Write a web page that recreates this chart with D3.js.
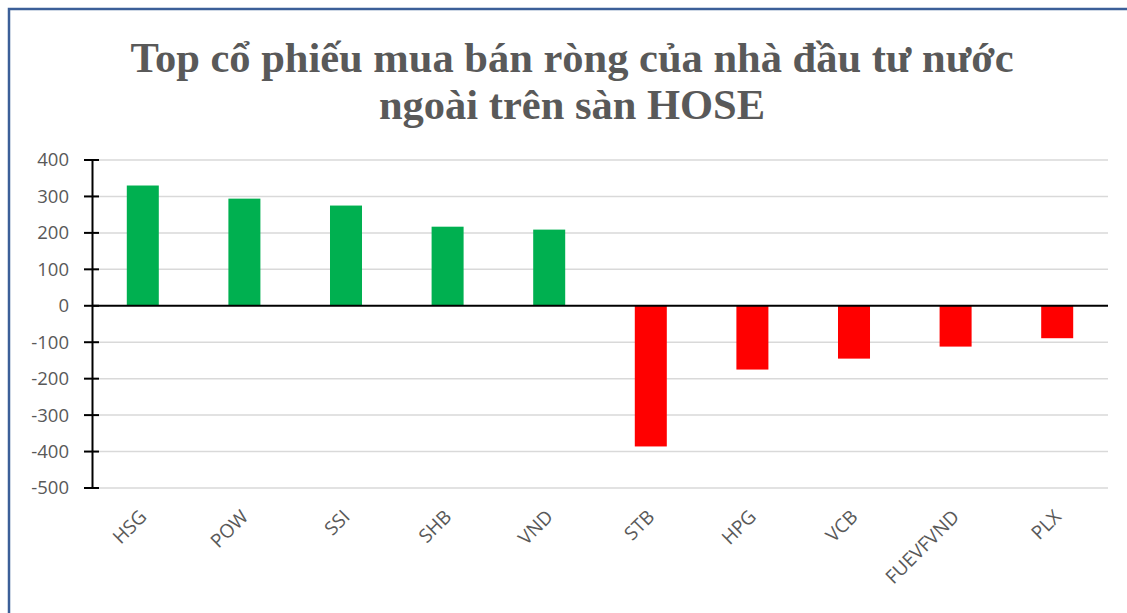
<!DOCTYPE html>
<html><head><meta charset="utf-8">
<script src="https://cdn.jsdelivr.net/npm/d3@7"></script>
<style>body{margin:0;background:#fff;}svg{display:block;}</style>
</head><body>
<svg id="c" width="1127" height="613"></svg>
<script>
const categories = ["HSG","POW","SSI","SHB","VND","STB","HPG","VCB","FUEVFVND","PLX"];
const values = [330, 294, 275, 217, 209, -386, -175, -145, -112, -89];
const yTicks = [400,300,200,100,0,-100,-200,-300,-400,-500];
const titleLines = ["Top cổ phiếu mua bán ròng của nhà đầu tư nước","ngoài trên sàn HOSE"];

const svg = d3.select("#c");
const W = 1127, H = 613;
const m = {left:92, right:1108, top:160, bottom:488};

svg.append("rect").attr("x",9).attr("y",9).attr("width",W+10).attr("height",H+10)
  .attr("fill","#fff").attr("stroke","#3b5f98").attr("stroke-width",2.5);

const x = d3.scaleBand().domain(categories).range([m.left,m.right]).paddingInner(0.685).paddingOuter(0.3425);
const y = d3.scaleLinear().domain([-500,400]).range([m.bottom,m.top]);

// title
svg.append("g").selectAll("text").data(titleLines).join("text")
  .attr("x",572).attr("y",(d,i)=>72+i*47)
  .attr("text-anchor","middle")
  .attr("font-family","Liberation Serif, Times New Roman, serif")
  .attr("font-weight","bold").attr("font-size",42.5).attr("fill","#595959")
  .text(d=>d);

// gridlines
svg.append("g").selectAll("line").data(yTicks.filter(t=>t!==0)).join("line")
  .attr("x1",m.left).attr("x2",m.right).attr("y1",d=>y(d)).attr("y2",d=>y(d))
  .attr("stroke","#d9d9d9").attr("stroke-width",1.5);

// bars
svg.append("g").selectAll("rect").data(values).join("rect")
  .attr("x",(d,i)=>x(categories[i])).attr("width",x.bandwidth())
  .attr("y",d=>y(Math.max(0,d))).attr("height",d=>Math.abs(y(d)-y(0)))
  .attr("fill",d=>d>=0?"#00b050":"#ff0000");

// zero line
svg.append("line").attr("x1",m.left).attr("x2",m.right).attr("y1",y(0)).attr("y2",y(0))
  .attr("stroke","#000").attr("stroke-width",2);

// y axis
const ya = svg.append("g").attr("transform",`translate(${m.left},0)`)
  .call(d3.axisLeft(y).tickValues(yTicks).tickSize(0).tickPadding(23).tickFormat(d=>String(d)));
ya.select(".domain").attr("stroke","#000").attr("stroke-width",2);
ya.selectAll("text").attr("font-family","Open Sans, Liberation Sans, sans-serif").attr("font-size",18.5).attr("fill","#595959");
svg.append("g").selectAll("line").data(yTicks).join("line")
  .attr("x1",m.left-8).attr("x2",m.left+7).attr("y1",d=>y(d)).attr("y2",d=>y(d))
  .attr("stroke","#000").attr("stroke-width",2);

// x labels
svg.append("g").selectAll("text").data(categories).join("text")
  .attr("transform",d=>`translate(${x(d)+x.bandwidth()/2+5},${518}) rotate(-45)`)
  .attr("text-anchor","end")
  .attr("font-family","Open Sans, Liberation Sans, sans-serif").attr("font-size",19).attr("fill","#595959")
  .text(d=>d);
</script>
</body></html>
